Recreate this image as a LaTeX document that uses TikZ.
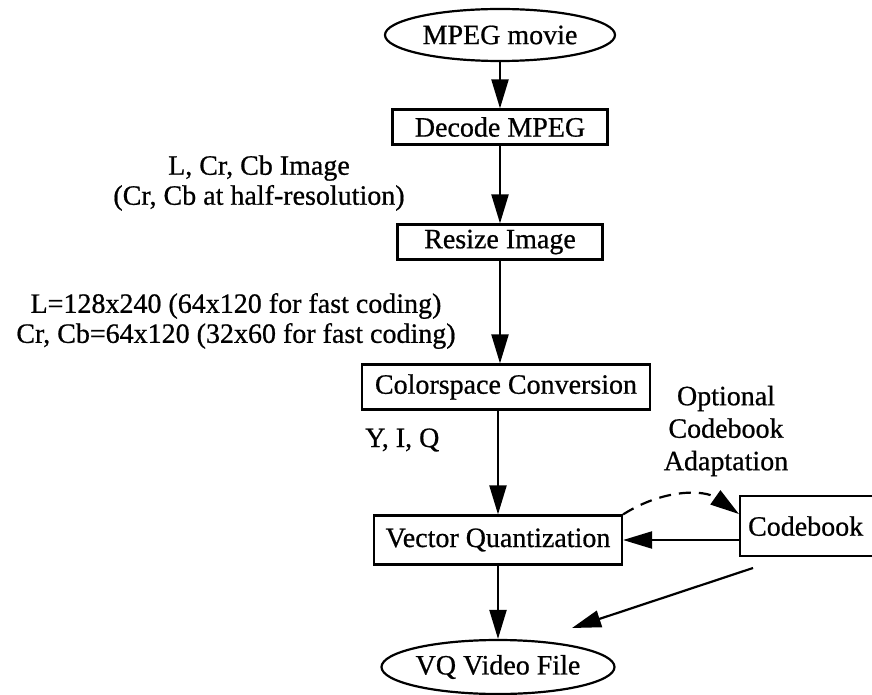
\documentclass[tikz,border=0pt]{standalone}
\usepackage{fontspec}
\setmainfont{Liberation Serif}
\newfontfamily\heavy{Liberation Serif}[FakeBold=0.7]
\usetikzlibrary{arrows.meta,shapes.geometric}
\begin{document}
\begin{tikzpicture}[x=1pt,y=-1pt,
  every node/.style={font=\heavy\fontsize{28}{30}\selectfont, inner sep=0pt},
  box/.style={draw, line width=2.2pt, rectangle, minimum height=35pt},
  oval/.style={draw, line width=2.2pt, ellipse},
  lbl/.style={align=center},
  arr/.style={line width=2.2pt, -{Triangle[length=29pt,width=17pt]}},
]
\useasboundingbox (0,0) rectangle (872,695);
\clip (0,0) rectangle (872,695);

\node[oval, minimum width=230pt, minimum height=52pt] (mpeg) at (500,35) {MPEG movie};
\node[box, minimum width=215pt] (dec) at (500,127) {Decode MPEG};
\node[box, minimum width=205pt] (res) at (500,242) {Resize Image};
\node[box, minimum width=288pt, minimum height=45pt] (col) at (506,387) {Colorspace Conversion};
\node[box, minimum width=248pt, minimum height=49pt] (vq) at (498,540) {Vector Quantization};
\node[box, anchor=north west, minimum height=60pt, inner xsep=8pt, text width=140pt, align=left] (cb) at (739,495) {Codebook};
\node[oval, minimum width=216pt, minimum height=54pt] (vqf) at (498,667) {VQ Video File};

\node[lbl] (l1) at (259,183) {L, Cr, Cb Image\\(Cr, Cb at half-resolution)};
\node[lbl] (l2) at (236,321) {L=128x240 (64x120 for fast coding)\\Cr, Cb=64x120 (32x60 for fast coding)};
\node[anchor=base west] (yiq) at (365,447) {Y, I, Q};
\node[lbl, font=\heavy\fontsize{28}{32.5}\selectfont] (opt) at (726,431) {Optional\\Codebook\\Adaptation};

\coordinate (d0) at (753,568);
\coordinate (d1) at (572,628);

\draw[arr] (mpeg) -- (dec);
\draw[arr] (dec) -- (res);
\draw[arr] (res.south) -- (col.north -| res.south);
\draw[arr] (col.south -| vq.north) -- (vq.north);
\draw[arr] (vq) -- (vqf);
\draw[arr] (cb.west |- vq.east) -- (vq.east);
\draw[arr, dash pattern=on 12pt off 8pt] (vq.north east) .. controls (665,488) and (705,490) .. ([yshift=12pt]cb.west);
\draw[arr] (d0) -- (d1);
\end{tikzpicture}
\end{document}
